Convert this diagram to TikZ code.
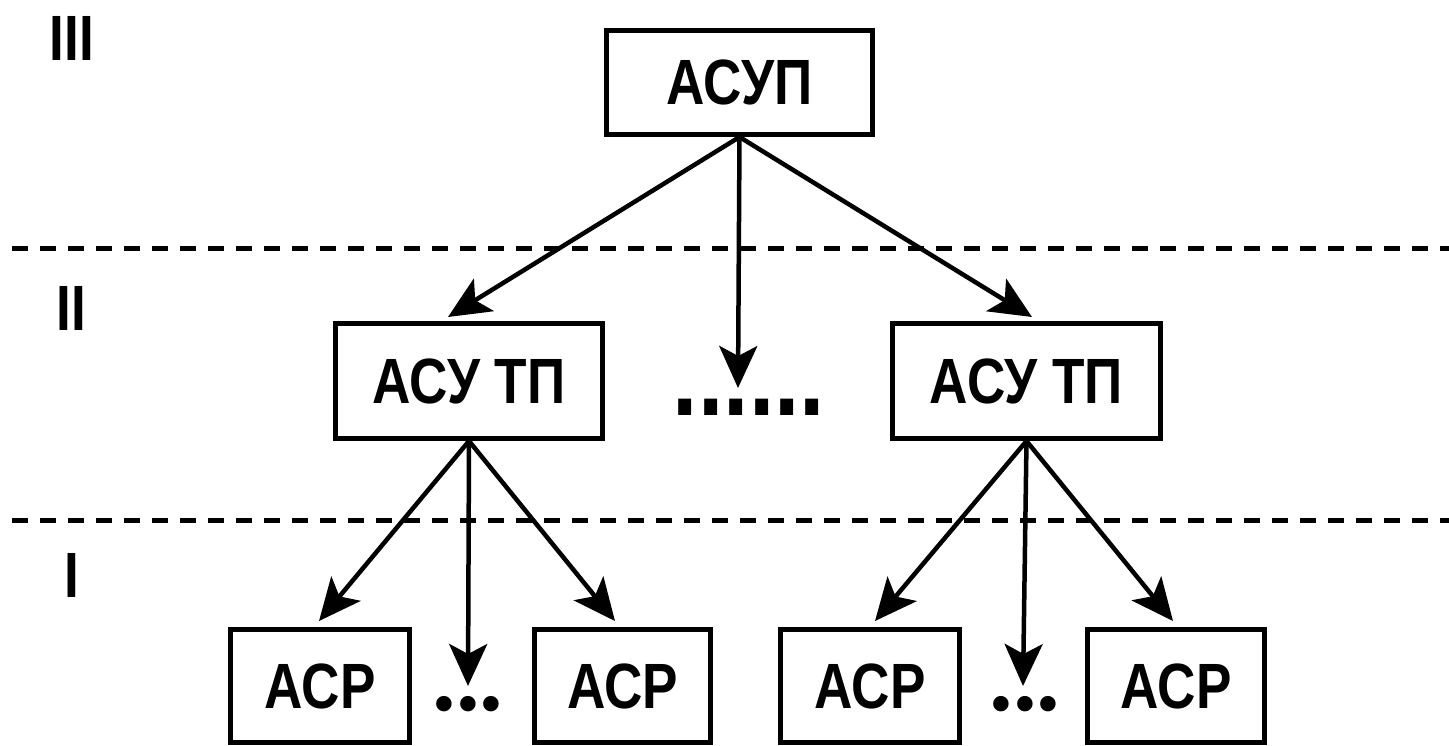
\documentclass[tikz,border=0pt]{standalone}
\usepackage{fontspec}
\setmainfont{Liberation Sans}[FakeStretch=0.83]
\newfontfamily\dotfont{Liberation Serif}
\usetikzlibrary{arrows.meta}
\tikzstyle{sys} = [draw=black, line width=5pt, rectangle, inner sep=0pt, font={\bfseries\fontsize{64}{70}\selectfont}]
\tikzstyle{lvl} = [inner sep=0pt, font={\bfseries\fontsize{64}{70}\selectfont}]
\tikzstyle{link} = [line width=4.5pt, -{Stealth[length=42pt,width=38pt,inset=10pt]}]
\tikzstyle{border} = [line width=5pt, dash pattern=on 16pt off 12pt]
\tikzstyle{etc} = [inner sep=0pt, anchor=base, font={\bfseries\fontsize{110}{110}\selectfont}]
\tikzstyle{etcsmall} = [inner sep=0pt, anchor=base, font={\dotfont\bfseries\fontsize{95}{95}\selectfont}]

\begin{document}
\begin{tikzpicture}[x=1pt,y=-1pt]
    \useasboundingbox (0,0) rectangle (1449,745);
    % levels
    \node[lvl](l3) at (72,38){III};
    \node[lvl](l2) at (71,308){II};
    \node[lvl](l1) at (72,575){I};
    \draw[border] (12,248) -- (1449,248);
    \draw[border] (12,520) -- (1449,520);
    % systems
    \node[sys, minimum width=266pt, minimum height=104pt](asup) at (739.5,82.5){АСУП};
    \node[sys, minimum width=267pt, minimum height=115pt](tp1) at (469,381){АСУ ТП};
    \node[sys, minimum width=268pt, minimum height=115pt](tp2) at (1026.5,381){АСУ ТП};
    \node[sys, minimum width=179pt, minimum height=113pt](asr1) at (320,686){АСР};
    \node[sys, minimum width=176pt, minimum height=113pt](asr2) at (622.5,686){АСР};
    \node[sys, minimum width=179pt, minimum height=113pt](asr3) at (870,686){АСР};
    \node[sys, minimum width=177pt, minimum height=113pt](asr4) at (1176,686){АСР};
    \node[etc](dots0) at (749,415){......};
    \node[etcsmall](dots1) at (468,710){...};
    \node[etcsmall](dots2) at (1025,710){...};
    \coordinate (end0) at (738,388);
    \coordinate (end1) at (468,686);
    \coordinate (end2) at (1023,686);
    % arrows
    \draw[link](asup.south)--(448,317);
    \draw[link](asup.south)--(end0);
    \draw[link](asup.south)--(1032,317);
    \draw[link](tp1.south)--(319,621);
    \draw[link](tp1.south)--(end1);
    \draw[link](tp1.south)--(615,621);
    \draw[link](tp2.south)--(875,621);
    \draw[link](tp2.south)--(end2);
    \draw[link](tp2.south)--(1173,621);
  \end{tikzpicture}
\end{document}
